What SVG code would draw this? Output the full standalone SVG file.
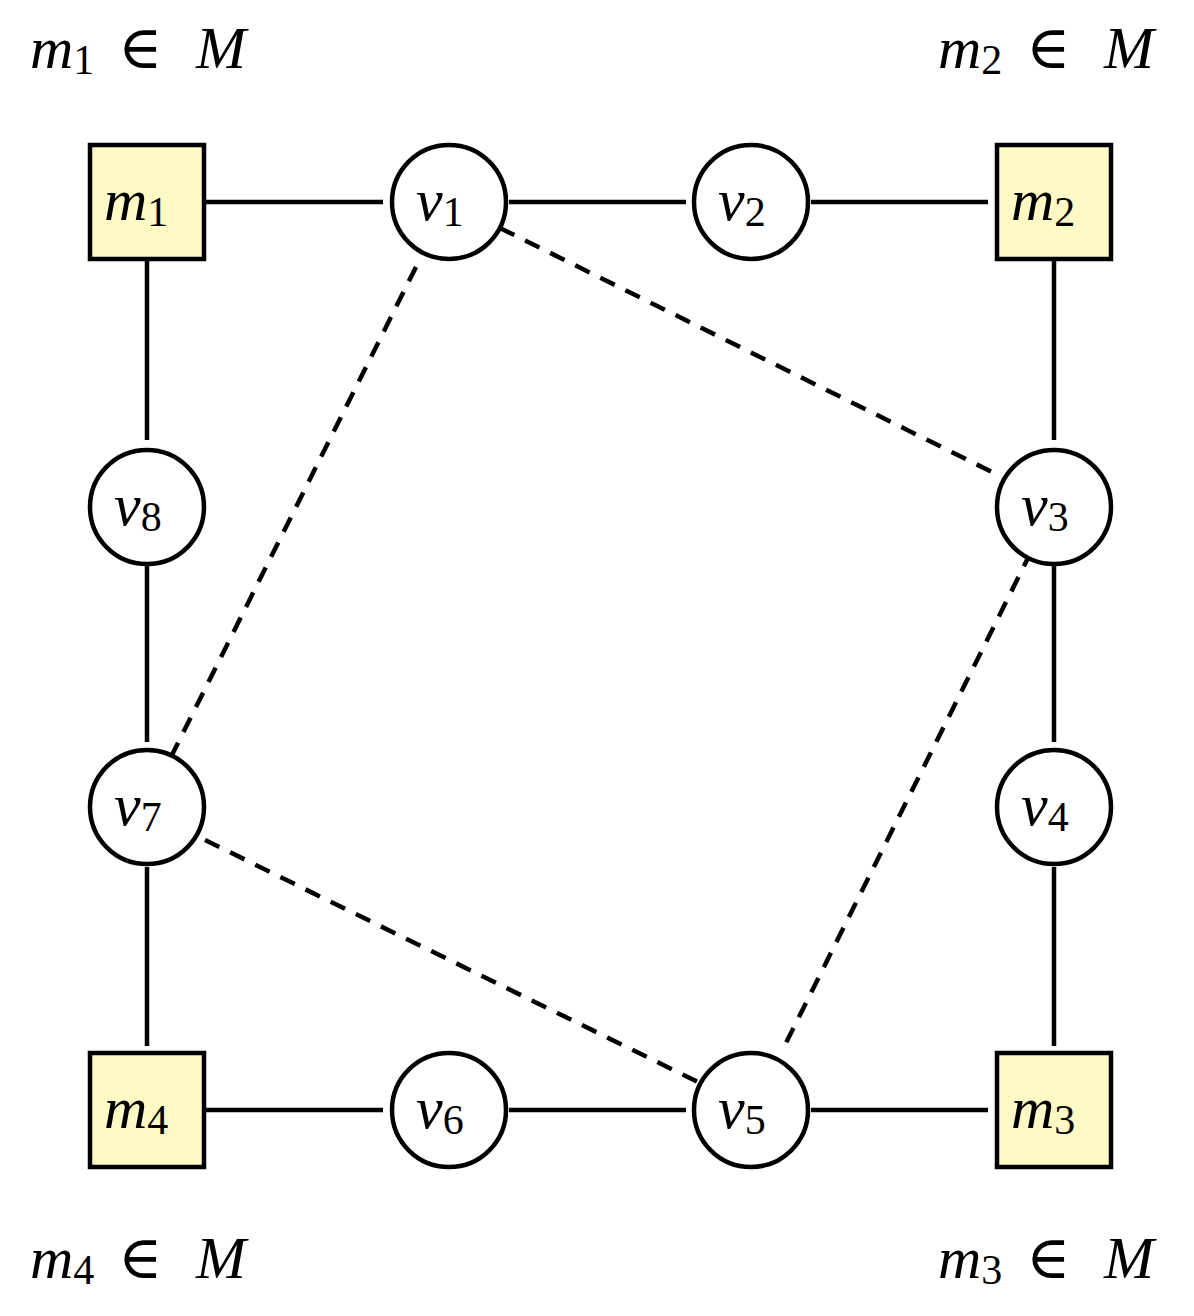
<svg xmlns="http://www.w3.org/2000/svg" width="1194" height="1316" viewBox="0 0 1194 1316">
<style>
.sq{fill:#fff9c5;stroke:#000;stroke-width:4.5}
.ci{fill:#fff;stroke:#000;stroke-width:4.5}
.e{stroke:#000;stroke-width:4.5;fill:none}
.d{stroke:#000;stroke-width:4.5;fill:none;stroke-dasharray:16 12}
text{font-family:"Liberation Serif","DejaVu Serif",serif;font-size:60px;fill:#000}
.i{font-style:italic}
.s{font-size:42px;font-style:normal}
</style>
<rect width="1194" height="1316" fill="#fff"/>
<g id="connectors">
<line class="e" x1="206" y1="202" x2="383" y2="202"/>
<line class="e" x1="509" y1="202" x2="686" y2="202"/>
<line class="e" x1="811" y1="202" x2="988" y2="202"/>
<line class="e" x1="147" y1="261" x2="147" y2="440"/>
<line class="e" x1="147" y1="565" x2="147" y2="742"/>
<line class="e" x1="147" y1="867" x2="147" y2="1046"/>
<line class="e" x1="1054" y1="261" x2="1054" y2="440"/>
<line class="e" x1="1054" y1="565" x2="1054" y2="742"/>
<line class="e" x1="1054" y1="867" x2="1054" y2="1046"/>
<line class="e" x1="206" y1="1110" x2="383" y2="1110"/>
<line class="e" x1="509" y1="1110" x2="686" y2="1110"/>
<line class="e" x1="811" y1="1110" x2="988" y2="1110"/>
<line class="d" x1="500" y1="228" x2="992" y2="472"/>
<line class="d" x1="416" y1="267" x2="172" y2="755"/>
<line class="d" x1="1031" y1="552" x2="785" y2="1045"/>
<line class="d" x1="205" y1="840" x2="700" y2="1083"/>
</g>
<g id="m1"><rect class="sq" x="90" y="145" width="114" height="114"/><text x="104" y="220"><tspan class="i">m</tspan><tspan class="s" dy="6">1</tspan></text></g>
<g id="m2"><rect class="sq" x="997" y="145" width="114" height="114"/><text x="1011" y="220"><tspan class="i">m</tspan><tspan class="s" dy="6">2</tspan></text></g>
<g id="m3"><rect class="sq" x="997" y="1053" width="114" height="114"/><text x="1011" y="1128"><tspan class="i">m</tspan><tspan class="s" dy="6">3</tspan></text></g>
<g id="m4"><rect class="sq" x="90" y="1053" width="114" height="114"/><text x="104" y="1128"><tspan class="i">m</tspan><tspan class="s" dy="6">4</tspan></text></g>
<g id="v1"><circle class="ci" cx="449" cy="202" r="57"/><text x="416" y="220"><tspan class="i">v</tspan><tspan class="s" dy="6">1</tspan></text></g>
<g id="v2"><circle class="ci" cx="751" cy="202" r="57"/><text x="718" y="220"><tspan class="i">v</tspan><tspan class="s" dy="6">2</tspan></text></g>
<g id="v3"><circle class="ci" cx="1054" cy="507" r="57"/><text x="1021" y="525"><tspan class="i">v</tspan><tspan class="s" dy="6">3</tspan></text></g>
<g id="v4"><circle class="ci" cx="1054" cy="807" r="57"/><text x="1021" y="825"><tspan class="i">v</tspan><tspan class="s" dy="6">4</tspan></text></g>
<g id="v5"><circle class="ci" cx="751" cy="1110" r="57"/><text x="718" y="1128"><tspan class="i">v</tspan><tspan class="s" dy="6">5</tspan></text></g>
<g id="v6"><circle class="ci" cx="449" cy="1110" r="57"/><text x="416" y="1128"><tspan class="i">v</tspan><tspan class="s" dy="6">6</tspan></text></g>
<g id="v7"><circle class="ci" cx="147" cy="807" r="57"/><text x="114" y="825"><tspan class="i">v</tspan><tspan class="s" dy="6">7</tspan></text></g>
<g id="v8"><circle class="ci" cx="147" cy="507" r="57"/><text x="114" y="525"><tspan class="i">v</tspan><tspan class="s" dy="6">8</tspan></text></g>
<g id="labels">
<text x="30" y="68"><tspan class="i">m</tspan><tspan class="s" dy="6">1</tspan><tspan x="118" dy="-6">∈</tspan><tspan class="i" x="196">M</tspan></text>
<text x="938" y="68"><tspan class="i">m</tspan><tspan class="s" dy="6">2</tspan><tspan x="1026" dy="-6">∈</tspan><tspan class="i" x="1104">M</tspan></text>
<text x="30" y="1278"><tspan class="i">m</tspan><tspan class="s" dy="6">4</tspan><tspan x="118" dy="-6">∈</tspan><tspan class="i" x="196">M</tspan></text>
<text x="938" y="1278"><tspan class="i">m</tspan><tspan class="s" dy="6">3</tspan><tspan x="1026" dy="-6">∈</tspan><tspan class="i" x="1104">M</tspan></text>
</g>
</svg>
